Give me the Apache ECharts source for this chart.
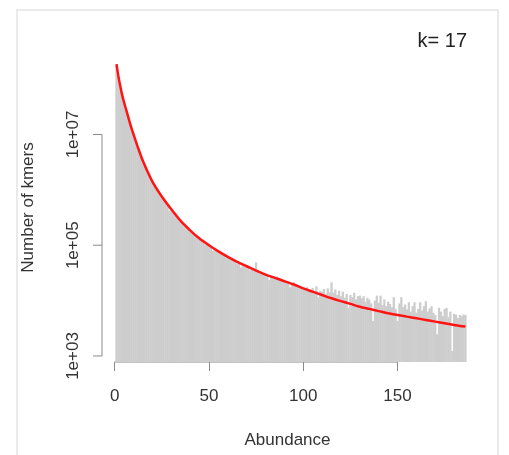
<!DOCTYPE html>
<html>
<head>
<meta charset="utf-8">
<script src="https://cdn.jsdelivr.net/npm/echarts@6/dist/echarts.min.js"></script>
<style>
  html, body { margin: 0; padding: 0; background: #fff; }
  #chart { width: 509px; height: 455px; }
</style>
</head>
<body>
<div id="chart"></div>
<script>
// kmer abundance histogram, k = 17
const abundance = Array.from({ length: 186 }, (_, i) => i + 1)

const kmerCounts = [
  1.80e8, 1.07e8, 7.1e7, 4.9e7, 3.6e7, 2.75e7, 2.1e7, 1.6e7, 1.23e7, 9.6e6,
  7.6e6, 6.0e6, 4.9e6, 3.9e6, 3.15e6, 2.62e6, 2.23e6, 1.86e6, 1.58e6, 1.35e6,
  1.17e6, 1.02e6, 9.1e5, 8.1e5, 7.2e5, 6.4e5, 5.7e5, 5.2e5, 4.2e5, 4.25e5,
  3.88e5, 3.45e5, 3.15e5, 2.88e5, 2.62e5, 2.39e5, 2.18e5, 2.04e5, 1.90e5, 1.77e5,
  1.65e5, 1.54e5, 1.43e5, 1.34e5, 1.25e5, 1.17e5, 1.11e5, 1.04e5, 1.0e5, 9.5e4,
  8.9e4, 7.9e4, 8.1e4, 7.7e4, 7.4e4, 7.0e4, 6.7e4, 6.4e4, 6.1e4, 5.9e4,
  58900, 56200, 55000, 52500, 46800, 49000, 39800, 45700, 43700, 40700,
  39800, 35500, 38000, 37200, 49000, 35500, 30200, 33100, 31600, 29500,
  28800, 23400, 28200, 26900, 26300, 27500, 24500, 24000, 23400, 22900,
  21900, 21400, 17400, 20400, 21400, 19500, 19100, 18200, 17800, 17400,
  16600, 17400, 15100, 15800, 17000, 14800, 18200, 11500, 15100, 14500,
  16200, 13200, 16600, 14100, 21400, 13800, 15800, 12600, 15100, 12000,
  14500, 11200, 13200, 7410, 12600, 11500, 13800, 10500, 12000, 12300,
  11000, 12000, 9550, 11200, 10500, 8910, 4270, 10000, 12300, 9120,
  12300, 8320, 10500, 7940, 9550, 8710, 7590, 11500, 7080, 4270,
  8910, 11500, 7590, 8510, 6920, 9330, 6310, 7940, 9330, 6030,
  7080, 9330, 6610, 7940, 9770, 6310, 7240, 7940, 6030, 5500,
  2450, 7410, 6310, 5250, 7080, 7410, 5010, 6310, 1230, 5750,
  5620, 4790, 5500, 5250, 5620, 5500
]

// fitted model curve
const fitAbundance = [1, 2, 3, 4, 5, 6, 8, 10, 12, 15, 20, 25, 30, 35, 40, 45, 50, 55, 60, 65,
  70, 75, 80, 85, 90, 95, 100, 105, 110, 115, 120, 125, 130, 135, 140, 145, 150, 155, 160, 165,
  170, 175, 180, 186]
const fitCounts = [1.86e8, 1.12e8, 7.41e7, 5.13e7, 3.80e7, 2.88e7, 1.66e7, 1.00e7, 6.31e6, 3.31e6,
  1.41e6, 7.59e5, 4.47e5, 2.75e5, 1.86e5, 1.32e5, 1.00e5, 7.76e4, 6.17e4, 5.01e4,
  4.17e4, 3.47e4, 2.95e4, 2.57e4, 2.24e4, 1.95e4, 1.66e4, 1.45e4, 1.26e4, 1.10e4,
  9.77e3, 8.71e3, 7.76e3, 7.08e3, 6.46e3, 5.89e3, 5.50e3, 5.13e3, 4.79e3, 4.47e3,
  4.17e3, 3.89e3, 3.63e3, 3.39e3]

const xTicks = [0, 50, 100, 150]
const yTicks = [1e3, 1e5, 1e7]

const font = '"Liberation Sans", Arial, Helvetica, sans-serif'
const axisGray = '#8a8a8a'
const textColor = '#333'
const barGray = '#cdcdcd'
const tickLen = 9

const chart = echarts.init(document.getElementById('chart'), null, { renderer: 'canvas' })

const option = {
  backgroundColor: '#fff',
  animation: false,
  title: {
    text: 'k= 17',
    right: 37,
    top: 26,
    textStyle: { fontFamily: font, fontSize: 20, fontWeight: 'normal', color: '#222' }
  },
  grid: { left: 102, right: 36, top: 53, bottom: 93 },
  xAxis: {
    type: 'value',
    min: -6.7,
    max: 190,
    name: 'Abundance',
    nameLocation: 'middle',
    nameGap: 70,
    nameTextStyle: { fontFamily: font, fontSize: 17, color: textColor },
    splitLine: { show: false },
    axisLine: { show: false },
    axisTick: { show: true, customValues: xTicks, length: tickLen, lineStyle: { color: axisGray } },
    axisLabel: { customValues: xTicks, margin: 26, fontFamily: font, fontSize: 17, color: textColor }
  },
  yAxis: {
    type: 'log',
    logBase: 10,
    min: 778,
    max: 2.96e8,
    name: 'Number of kmers',
    nameLocation: 'middle',
    nameGap: 65,
    nameTextStyle: { fontFamily: font, fontSize: 17, color: textColor },
    splitLine: { show: false },
    axisLine: { show: false },
    axisTick: { show: false },
    axisLabel: {
      customValues: yTicks,
      rotate: 90,
      margin: 20,
      fontFamily: font,
      fontSize: 17,
      color: textColor,
      formatter: v => '1e+' + String(Math.round(Math.log10(v))).padStart(2, '0')
    }
  },
  series: [
    {
      type: 'bar',
      data: abundance.map((a, i) => [a, kmerCounts[i]]),
      barWidth: 2.3,
      itemStyle: { color: barGray },
      silent: true
    },
    {
      type: 'line',
      data: fitAbundance.map((a, i) => [a, fitCounts[i]]),
      smooth: 0.3,
      showSymbol: false,
      lineStyle: { color: '#ff1414', width: 2.5 },
      silent: true,
      z: 5
    }
  ]
}

chart.setOption(option)

// R style axis lines that only span the tick range, y ticks drawn alongside
const xLeft = chart.convertToPixel({ xAxisIndex: 0 }, xTicks[0])
const xRight = chart.convertToPixel({ xAxisIndex: 0 }, xTicks[xTicks.length - 1])
const yPix = yTicks.map(v => chart.convertToPixel({ yAxisIndex: 0 }, v))
const gridRect = chart.getModel().getComponent('grid').coordinateSystem.getRect()
const xLineY = gridRect.y + gridRect.height
const yLineX = gridRect.x
const lineStyle = { stroke: axisGray, lineWidth: 1 }

chart.setOption({
  graphic: [
    {
      type: 'rect',
      shape: { x: 17, y: 10, width: 481, height: 470 },
      style: { fill: null, stroke: '#e3e3e3', lineWidth: 1.5 },
      silent: true,
      z: -10
    },
    {
      type: 'line',
      shape: { x1: xLeft, y1: xLineY, x2: xRight, y2: xLineY },
      style: lineStyle,
      silent: true
    },
    {
      type: 'line',
      shape: { x1: yLineX, y1: yPix[0], x2: yLineX, y2: yPix[yPix.length - 1] },
      style: lineStyle,
      silent: true
    },
    ...yPix.map(py => ({
      type: 'line',
      shape: { x1: yLineX - tickLen, y1: py, x2: yLineX, y2: py },
      style: lineStyle,
      silent: true
    }))
  ]
})
</script>
</body>
</html>
